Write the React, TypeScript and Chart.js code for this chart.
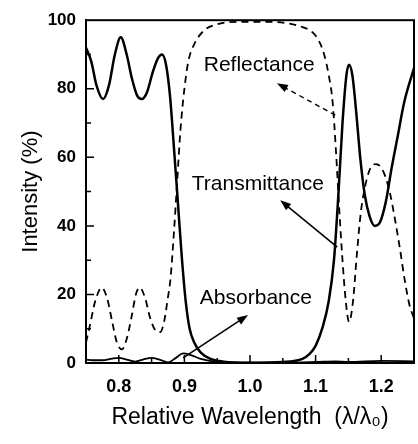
import { useEffect, useRef } from "react";
import { Chart, registerables } from "chart.js";

Chart.register(...registerables);

// ---- data ----
const transX = [0.75, 0.758, 0.766, 0.776, 0.785, 0.794, 0.803, 0.812, 0.82, 0.828, 0.835, 0.843, 0.852, 0.86, 0.866, 0.872, 0.878, 0.884, 0.89, 0.896, 0.902, 0.908, 0.915, 0.925, 0.94, 0.96, 1.0, 1.05, 1.08, 1.09, 1.1, 1.11, 1.12, 1.128, 1.135, 1.141, 1.147, 1.151, 1.156, 1.162, 1.168, 1.175, 1.182, 1.19, 1.198, 1.207, 1.216, 1.225, 1.235, 1.25];
const transY = [92, 88, 81, 77, 81, 90, 95, 90, 83, 78, 77, 79, 85, 89, 90, 87, 78, 63, 47, 31, 18, 10, 6, 3, 1.2, 0.4, 0.1, 0.3, 1.2, 2.5, 5, 10, 18, 30, 50, 70, 84, 87, 84, 73, 60, 49, 43, 40, 41, 47, 57, 66, 76, 86];

const reflX = [0.75, 0.756, 0.764, 0.774, 0.782, 0.79, 0.797, 0.805, 0.812, 0.82, 0.826, 0.832, 0.84, 0.848, 0.856, 0.863, 0.869, 0.874, 0.879, 0.884, 0.889, 0.894, 0.9, 0.906, 0.915, 0.93, 0.95, 0.98, 1.03, 1.06, 1.08, 1.095, 1.105, 1.113, 1.12, 1.126, 1.131, 1.136, 1.141, 1.146, 1.151, 1.157, 1.163, 1.169, 1.176, 1.184, 1.192, 1.2, 1.207, 1.214, 1.22, 1.228, 1.236, 1.243, 1.25];
const reflY = [6, 11, 18, 22, 19, 12, 6, 4, 7, 14, 20, 22, 19, 13, 9.5, 9, 12, 18, 25, 38, 53, 68, 80, 88, 93, 97, 98.8, 99.5, 99.5, 99, 98, 96.5, 94, 90, 84, 76, 62, 45, 30, 18, 12, 18, 32, 44, 52, 57, 58, 57, 54, 49, 43, 34, 24, 17, 13];

const absX = [0.75, 0.76, 0.775, 0.79, 0.8, 0.812, 0.825, 0.837, 0.85, 0.862, 0.875, 0.887, 0.898, 0.91, 0.925, 0.945, 0.97, 1.05, 1.1, 1.13, 1.15, 1.2, 1.25];
const absY = [1, 0.8, 0.8, 1.3, 1.5, 1, 0.4, 1, 1.5, 1, 0.2, 1.5, 2.8, 2.3, 1.2, 0.4, 0.1, 0.1, 0.3, 0.5, 0.3, 0.6, 0.5];

const xTickValues = [0.8, 0.9, 1.0, 1.1, 1.2];
const xMinorValues = [0.8, 0.85, 0.9, 0.95, 1.0, 1.05, 1.1, 1.15, 1.2];
const yTickValues = [0, 20, 40, 60, 80, 100];
const yMinorValues = [10, 20, 30, 40, 50, 60, 70, 80, 90];

const annoLabels = ["Reflectance", "Transmittance", "Absorbance"];
const annoLabelX = [1.014, 1.012, 1.009];
const annoLabelY = [86.9, 52.2, 19];
const arrowFromX = [1.13, 1.133, 0.898];
const arrowFromY = [72.3, 33.8, 1.5];
const arrowToX = [1.041, 1.046, 0.997];
const arrowToY = [81.6, 47.5, 14];
const arrowDashed = [true, false, false];

const FONT = "'Liberation Sans', Arial, Helvetica, sans-serif";

const decorPlugin = {
  id: "decor",
  afterDatasetsDraw(chart: any) {
    const { ctx, chartArea } = chart;
    const xs = chart.scales.x;
    const ys = chart.scales.y;
    const { left, right, top, bottom } = chartArea;
    ctx.save();
    ctx.strokeStyle = "#000";
    ctx.fillStyle = "#000";
    // frame
    ctx.lineWidth = 2;
    ctx.setLineDash([]);
    ctx.strokeRect(left, top, right - left, bottom - top);
    // inward ticks
    ctx.lineWidth = 1.5;
    ctx.beginPath();
    yMinorValues.forEach((v) => {
      const py = ys.getPixelForValue(v);
      const len = v % 20 === 0 ? 8 : 5;
      ctx.moveTo(left, py);
      ctx.lineTo(left + len, py);
    });
    xMinorValues.forEach((v) => {
      const px = xs.getPixelForValue(v);
      const major = Math.abs(Math.round(v * 10) - v * 10) < 1e-6;
      const len = major ? 8 : 5;
      ctx.moveTo(px, bottom);
      ctx.lineTo(px, bottom - len);
    });
    ctx.stroke();
    // annotations
    ctx.font = `21px ${FONT}`;
    ctx.textAlign = "center";
    ctx.textBaseline = "middle";
    annoLabels.forEach((t, i) => {
      ctx.fillText(t, xs.getPixelForValue(annoLabelX[i]), ys.getPixelForValue(annoLabelY[i]));
    });
    annoLabels.forEach((_, i) => {
      const x1 = xs.getPixelForValue(arrowFromX[i]);
      const y1 = ys.getPixelForValue(arrowFromY[i]);
      const x2 = xs.getPixelForValue(arrowToX[i]);
      const y2 = ys.getPixelForValue(arrowToY[i]);
      const ang = Math.atan2(y2 - y1, x2 - x1);
      const hl = 11;
      const hw = 4;
      ctx.lineWidth = arrowDashed[i] ? 1.4 : 1.6;
      ctx.setLineDash(arrowDashed[i] ? [5, 4] : []);
      ctx.beginPath();
      ctx.moveTo(x1, y1);
      ctx.lineTo(x2 - Math.cos(ang) * hl * 0.8, y2 - Math.sin(ang) * hl * 0.8);
      ctx.stroke();
      ctx.setLineDash([]);
      ctx.beginPath();
      ctx.moveTo(x2, y2);
      ctx.lineTo(x2 - Math.cos(ang) * hl - Math.sin(ang) * hw, y2 - Math.sin(ang) * hl + Math.cos(ang) * hw);
      ctx.lineTo(x2 - Math.cos(ang) * hl + Math.sin(ang) * hw, y2 - Math.sin(ang) * hl - Math.cos(ang) * hw);
      ctx.closePath();
      ctx.fill();
    });
    ctx.restore();
  },
};

export default function App() {
  const ref = useRef<HTMLCanvasElement | null>(null);
  useEffect(() => {
    if (!ref.current) return;
    const mk = (xa: number[], ya: number[]) => xa.map((x, i) => ({ x, y: ya[i] }));
    const chart = new Chart(ref.current, {
      type: "line",
      data: {
        datasets: [
          {
            label: "Transmittance",
            data: mk(transX, transY),
            borderColor: "#000",
            borderWidth: 2.5,
            pointRadius: 0,
            cubicInterpolationMode: "monotone",
            fill: false,
          },
          {
            label: "Reflectance",
            data: mk(reflX, reflY),
            borderColor: "#000",
            borderWidth: 1.8,
            borderDash: [7, 5],
            pointRadius: 0,
            cubicInterpolationMode: "monotone",
            fill: false,
          },
          {
            label: "Absorbance",
            data: mk(absX, absY),
            borderColor: "#000",
            borderWidth: 1.8,
            pointRadius: 0,
            cubicInterpolationMode: "monotone",
            fill: false,
          },
        ],
      },
      options: {
        responsive: false,
        animation: false,
        devicePixelRatio: 1,
        layout: { padding: { top: 20, right: 4, left: 0, bottom: 0 } },
        plugins: { legend: { display: false }, tooltip: { enabled: false } },
        scales: {
          x: {
            type: "linear",
            min: 0.75,
            max: 1.25,
            grid: { display: false, drawTicks: false },
            border: { display: true, color: "#000", width: 2 },
            afterBuildTicks: (s: any) => {
              s.ticks = xTickValues.map((v) => ({ value: v }));
            },
            afterFit: (s: any) => {
              s.height = 81;
            },
            ticks: {
              color: "#000",
              padding: 13,
              maxRotation: 0,
              autoSkip: false,
              font: { family: FONT, size: 18, weight: "bold" },
              callback: (v: any) => Number(v).toFixed(1),
            },
            title: {
              display: true,
              text: "Relative Wavelength  (λ/λ₀)",
              color: "#000",
              font: { family: FONT, size: 23 },
              padding: { top: 0, bottom: 13 },
            },
          },
          y: {
            type: "linear",
            min: 0,
            max: 100,
            grid: { display: false, drawTicks: false },
            border: { display: true, color: "#000", width: 2 },
            afterBuildTicks: (s: any) => {
              s.ticks = yTickValues.map((v) => ({ value: v }));
            },
            afterFit: (s: any) => {
              s.width = 86;
            },
            ticks: {
              color: "#000",
              padding: 10,
              font: { family: FONT, size: 17, weight: "bold" },
              callback: (v: any) => String(v),
            },
            title: {
              display: true,
              text: "Intensity (%)",
              color: "#000",
              font: { family: FONT, size: 22 },
              padding: { top: 18, bottom: 0 },
            },
          },
        },
      },
      plugins: [decorPlugin],
    } as any);
    return () => chart.destroy();
  }, []);
  return (
    <div style={{ position: "absolute", left: 0, top: 0, width: 418, height: 444, background: "#fff" }}>
      <canvas ref={ref} width={418} height={444} style={{ width: 418, height: 444, display: "block" }} />
    </div>
  );
}
